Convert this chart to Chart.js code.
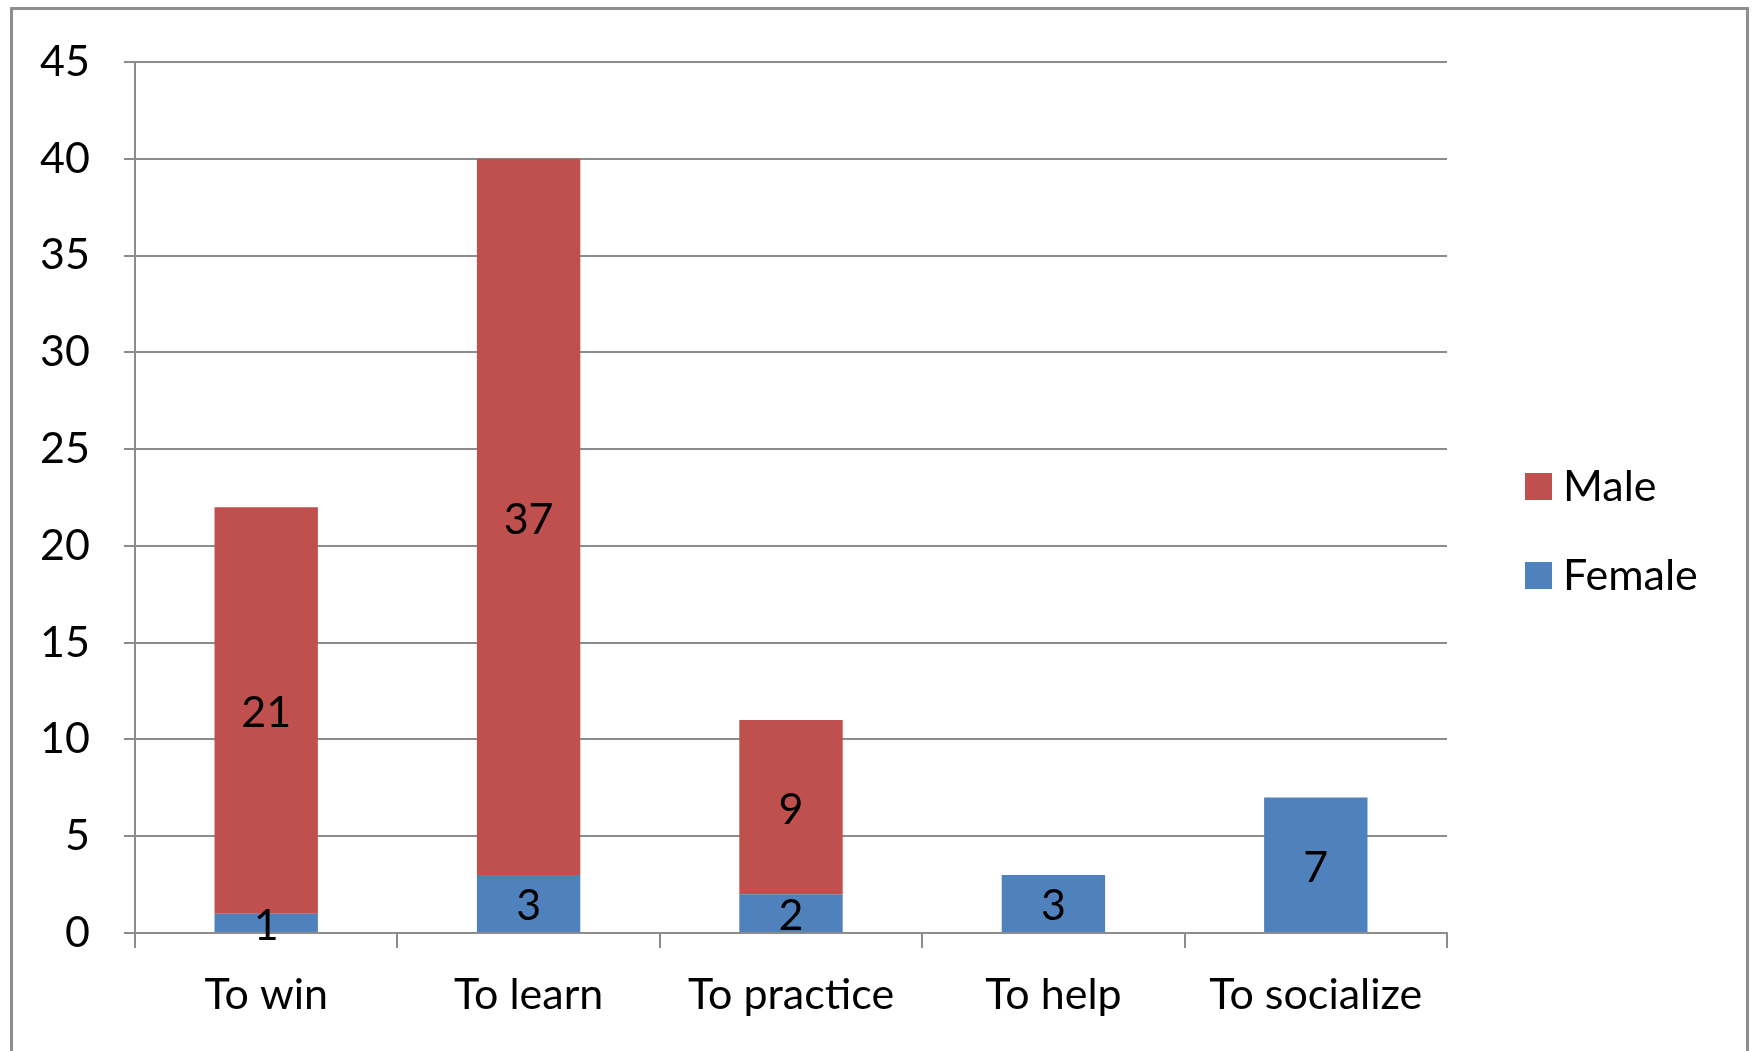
<!DOCTYPE html>
<html>
<head>
<meta charset="utf-8">
<script src="https://cdn.jsdelivr.net/npm/chart.js@4.4.1/dist/chart.umd.min.js"></script>
<style>
  html, body { margin: 0; padding: 0; background: #ffffff; overflow: hidden; }
  #wrap { position: relative; width: 1763px; height: 1051px; }
  #frame { position: absolute; left: 10px; top: 7px; width: 1739px; height: 1100px;
           border: 3px solid #8e8e8e; box-sizing: border-box; }
  canvas { position: absolute; left: 0; top: 0; }
</style>
</head>
<body>
<div id="wrap">
  <div id="frame"></div>
  <canvas id="c" width="1763" height="1051"></canvas>
</div>
<script>
const categories = ["To win", "To learn", "To practice", "To help", "To socialize"];
const femaleValues = [1, 3, 2, 3, 7];
const maleValues = [21, 37, 9, 0, 0];
const yTicks = [0, 5, 10, 15, 20, 25, 30, 35, 40, 45];

const FONT = "Lato, 'Liberation Sans', sans-serif";
const FSIZE = 43;
const GRID = '#8c8c8c';

const labelPlugin = {
  id: 'segmentLabels',
  afterDatasetsDraw(chart) {
    const ctx = chart.ctx;
    ctx.save();
    ctx.font = FSIZE + 'px ' + FONT;
    ctx.fillStyle = '#000000';
    ctx.textAlign = 'center';
    ctx.textBaseline = 'middle';
    chart.data.datasets.forEach((ds, i) => {
      const meta = chart.getDatasetMeta(i);
      meta.data.forEach((el, j) => {
        const v = ds.data[j];
        if (!v) return;
        ctx.fillText(String(v), el.x, (el.y + el.base) / 2 + 3);
      });
    });
    ctx.restore();
  }
};

const legendPlugin = {
  id: 'sideLegend',
  afterDraw(chart) {
    const ctx = chart.ctx;
    const area = chart.chartArea;
    const x0 = area.right + 78;
    const mid = (area.top + area.bottom) / 2;
    const items = chart.data.datasets.slice().reverse();
    ctx.save();
    ctx.font = FSIZE + 'px ' + FONT;
    ctx.textAlign = 'left';
    ctx.textBaseline = 'middle';
    items.forEach((ds, k) => {
      const cy = mid - 11 + k * 89;
      ctx.fillStyle = ds.backgroundColor;
      ctx.fillRect(x0, cy - 13.5, 27, 27);
      ctx.fillStyle = '#000000';
      ctx.fillText(ds.label, x0 + 38, cy + 1);
    });
    ctx.restore();
  }
};

new Chart(document.getElementById('c'), {
  type: 'bar',
  data: {
    labels: categories,
    datasets: [
      { label: 'Female', data: femaleValues, backgroundColor: '#4f81bd',
        barPercentage: 0.394, categoryPercentage: 1.0 },
      { label: 'Male', data: maleValues, backgroundColor: '#c0504d',
        barPercentage: 0.394, categoryPercentage: 1.0 }
    ]
  },
  options: {
    responsive: false,
    animation: false,
    devicePixelRatio: 1,
    layout: { padding: { top: 62, left: 0, right: 316, bottom: 0 } },
    plugins: { legend: { display: false }, tooltip: { enabled: false } },
    scales: {
      x: {
        stacked: true,
        grid: { offset: true, drawOnChartArea: false, drawTicks: true, tickLength: 15,
                color: GRID, lineWidth: 2 },
        border: { color: GRID, width: 2 },
        ticks: { font: { family: FONT, size: FSIZE }, color: '#000000', padding: 21,
                 maxRotation: 0, autoSkip: false },
        afterFit(scale) { scale.height = 118; }
      },
      y: {
        stacked: true,
        min: 0, max: 45,
        afterBuildTicks(scale) { scale.ticks = yTicks.map(v => ({ value: v })); },
        grid: { color: GRID, lineWidth: 2, drawTicks: true, tickLength: 11 },
        border: { color: GRID, width: 2 },
        ticks: { font: { family: FONT, size: FSIZE }, color: '#000000', padding: 34 },
        afterFit(scale) { scale.width = 135; }
      }
    }
  },
  plugins: [labelPlugin, legendPlugin]
});
</script>
</body>
</html>
